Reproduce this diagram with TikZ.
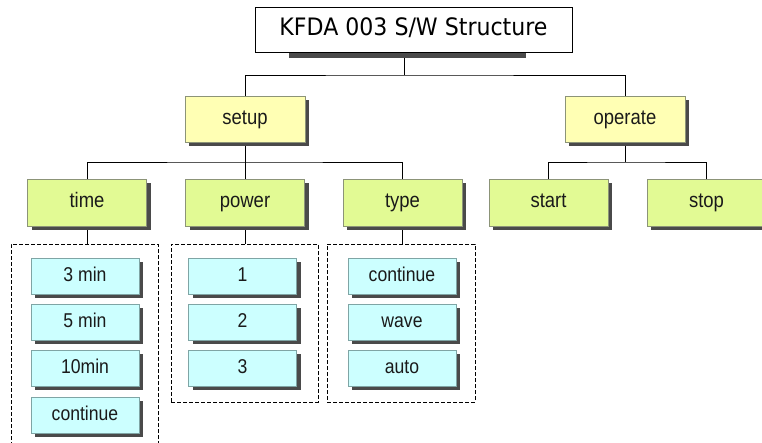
\documentclass[tikz,border=0pt]{standalone}
\usepackage{fontspec}
\setmainfont{Liberation Sans}
\newfontfamily\narrowfont[FakeStretch=0.88]{Liberation Sans}
\newfontfamily\titlefont[FakeStretch=0.92]{DejaVu Sans}
\usetikzlibrary{shadows,calc,backgrounds}
\definecolor{topyellow}{HTML}{FFFFB4}
\definecolor{midgreen}{HTML}{E2FA94}
\definecolor{leafcyan}{HTML}{CCFFFF}
\definecolor{boxedge}{HTML}{8C9478}
\definecolor{cyanedge}{HTML}{7FA5A5}
\definecolor{shadowgray}{HTML}{4A4A4A}
\definecolor{labelink}{HTML}{1A1A1A}
\tikzset{
  boxshadow/.style={general shadow={fill=shadowgray, draw=none, shadow xshift=4pt, shadow yshift=-4pt}},
  titlebox/.style={draw=black, line width=0.9pt, fill=white, minimum width=317pt, minimum height=45pt, inner sep=0pt,
    text height=17pt, text depth=5pt, font=\titlefont\fontsize{24}{28}\selectfont},
  upperbox/.style={draw=boxedge, line width=0.8pt, fill=topyellow, minimum width=120pt, minimum height=46pt, inner sep=0pt,
    text=labelink, text height=14.5pt, text depth=4pt, boxshadow, font=\narrowfont\fontsize{21}{24}\selectfont},
  midbox/.style={draw=boxedge, line width=0.8pt, fill=midgreen, minimum width=119pt, minimum height=47pt, inner sep=0pt,
    text=labelink, text height=14.5pt, text depth=4pt, boxshadow, font=\narrowfont\fontsize{21}{24}\selectfont},
  leafbox/.style={draw=cyanedge, line width=0.8pt, fill=leafcyan, minimum width=108pt, minimum height=36pt, inner sep=0pt,
    text=labelink, text height=14pt, text depth=3.5pt, boxshadow, font=\narrowfont\fontsize{20}{23}\selectfont},
  groupbox/.style={draw=black, line width=0.9pt, dash pattern=on 4pt off 2pt, inner sep=0pt},
  link/.style={draw=black, line width=1pt},
}
\begin{document}
\begin{tikzpicture}[x=1pt,y=-1pt]
\useasboundingbox (0,0) rectangle (762,442);
\clip (0,0) rectangle (762,442);

% title
\node[titlebox] (title) at (413.5,29.5) {KFDA 003 S/W Structure};
\fill[shadowgray] ($(title.south west)+(34,0.5)$) rectangle ($(title.south east)+(-46,6)$);

% upper level
\node[upperbox] (setup) at (245,119) {setup};
\node[upperbox] (operate) at (625,119) {operate};

% middle level
\node[midbox] (time) at (87,202.5) {time};
\node[midbox] (power) at (245,202.5) {power};
\node[midbox] (type) at (402.5,202.5) {type};
\node[midbox] (start) at (548.5,202.5) {start};
\node[midbox] (stop) at (706.5,202.5) {stop};

% dashed groups
\node[groupbox, minimum width=147pt, minimum height=210pt] (tgrp) at (84.5,349) {};
\node[groupbox, minimum width=147pt, minimum height=158pt] (pgrp) at (244.5,323) {};
\node[groupbox, minimum width=148pt, minimum height=158pt] (ygrp) at (401,323) {};

% leaves: time
\node[leafbox] (t1) at (85,276) {3 min};
\node[leafbox] (t2) at (85,322) {5 min};
\node[leafbox] (t3) at (85,368) {10min};
\node[leafbox] (t4) at (85,415) {continue};
% leaves: power
\node[leafbox] (p1) at (242.5,276) {1};
\node[leafbox] (p2) at (242.5,322) {2};
\node[leafbox] (p3) at (242.5,368) {3};
% leaves: type
\node[leafbox] (y1) at (402,276) {continue};
\node[leafbox] (y2) at (402,322) {wave};
\node[leafbox] (y3) at (402,368) {auto};

% junction points
\coordinate (tj) at (404,75);
\coordinate (sj) at (245,162);
\coordinate (oj) at (625,162);

\begin{pgfonlayer}{background}
\fill[white] (0,0) rectangle (762,442);
\draw[link] (tj |- title.south) -- (tj);
\draw[link] (setup.north) |- (tj) -| (operate.north);
\draw[link] (setup.south) -- (sj);
\draw[link] (time.north) |- (sj) -| (type.north);
\draw[link] (sj) -- (power.north);
\draw[link] (operate.south) -- (oj);
\draw[link] (start.north) |- (oj) -| (stop.north);
\draw[link] (time.south) -- (time.south |- tgrp.north);
\draw[link] (power.south) -- (power.south |- pgrp.north);
\draw[link] (type.south) -- (type.south |- ygrp.north);
\end{pgfonlayer}
\end{tikzpicture}
\end{document}
